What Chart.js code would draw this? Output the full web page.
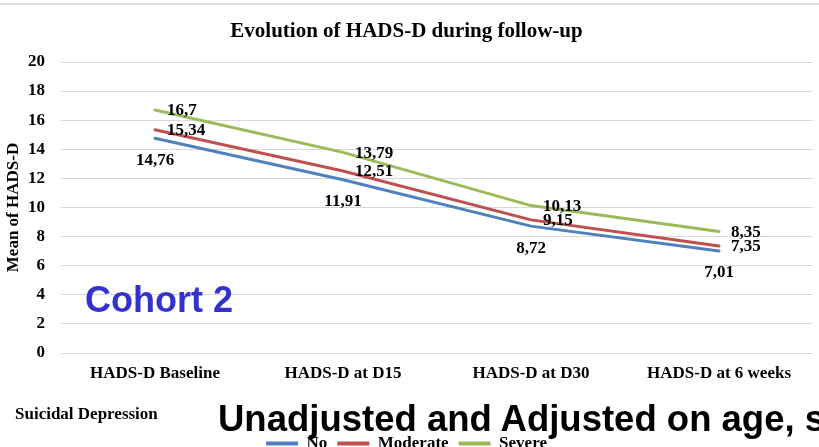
<!DOCTYPE html>
<html lang="en">
<head>
    <meta charset="UTF-8">
    <title>Evolution of HADS-D during follow-up</title>
    <script src="https://cdn.jsdelivr.net/npm/chart.js"></script>
    <style>
        body {
            margin: 0;
            padding: 0;
            width: 819px;
            height: 447px;
            overflow: hidden;
            background: #fff;
            position: relative;
        }
        #hadsChart { position: absolute; left: 0; top: 0; }
        .topline {
            position: absolute; left: 0; top: 3px; width: 819px; height: 2px;
            background: #dedede;
        }
        .cohort {
            position: absolute; left: 85px; top: 282px;
            font: bold 36px/36px "Liberation Sans", Arial, sans-serif;
            color: #3333cc;
        }
        .subtitle {
            position: absolute; left: 15px; top: 405px;
            font: bold 17px/17px "Liberation Serif", "Times New Roman", serif;
            color: #000;
        }
        .bigtext {
            position: absolute; left: 218px; top: 401px;
            font: bold 36.5px/36px "Liberation Sans", Arial, sans-serif;
            color: #000; white-space: nowrap;
        }
    </style>
</head>
<body>
    <div class="topline"></div>
    <canvas id="hadsChart" width="819" height="462"></canvas>
    <div class="cohort">Cohort 2</div>
    <div class="subtitle">Suicidal Depression</div>
    <div class="bigtext">Unadjusted and Adjusted on age, sex</div>

    <script>
        // values
        const categories = ['HADS-D Baseline', 'HADS-D at D15', 'HADS-D at D30', 'HADS-D at 6 weeks'];
        const seriesNames = ['No', 'Moderate', 'Severe'];
        const noValues = [14.76, 11.91, 8.72, 7.01];
        const moderateValues = [15.34, 12.51, 9.15, 7.35];
        const severeValues = [16.7, 13.79, 10.13, 8.35];
        const yMin = 0, yMax = 20, yStep = 2;

        const serif = '"Liberation Serif", "Times New Roman", serif';
        const colors = ['#4f81bd', '#c0504d', '#9bbb59'];

        // draw the value labels next to each point (comma decimal like the original)
        const valueLabels = {
            id: 'valueLabels',
            afterDatasetsDraw(chart) {
                const ctx = chart.ctx;
                ctx.save();
                ctx.font = 'bold 17px ' + serif;
                ctx.fillStyle = '#000';
                chart.data.datasets.forEach((ds, i) => {
                    const meta = chart.getDatasetMeta(i);
                    meta.data.forEach((pt, j) => {
                        const txt = String(ds.data[j]).replace('.', ',');
                        ctx.textBaseline = 'middle';
                        if (ds.labelPos === 'below') {
                            ctx.textAlign = 'center';
                            ctx.fillText(txt, pt.x, pt.y + 22);
                        } else {
                            ctx.textAlign = 'left';
                            ctx.fillText(txt, pt.x + 12, pt.y + 1);
                        }
                    });
                });
                ctx.restore();
            }
        };

        const ctx = document.getElementById('hadsChart').getContext('2d');
        new Chart(ctx, {
            type: 'line',
            data: {
                labels: categories,
                datasets: [
                    { label: seriesNames[0], data: noValues, labelPos: 'below' },
                    { label: seriesNames[1], data: moderateValues, labelPos: 'right' },
                    { label: seriesNames[2], data: severeValues, labelPos: 'right' }
                ].map((d, i) => Object.assign(d, {
                    borderColor: colors[i],
                    backgroundColor: colors[i],
                    borderWidth: 3,
                    pointRadius: 0,
                    tension: 0,
                    borderCapStyle: 'round'
                }))
            },
            options: {
                responsive: false,
                animation: false,
                layout: { padding: { left: 0, right: 6, top: 0, bottom: 0 } },
                scales: {
                    x: {
                        offset: true,
                        grid: { display: false },
                        border: { display: false },
                        ticks: {
                            color: '#000',
                            font: { family: serif, size: 17, weight: 'bold' },
                            padding: 2,
                            maxRotation: 0
                        },
                        afterFit(scale) { scale.height = 72; }
                    },
                    y: {
                        min: yMin,
                        max: yMax,
                        grid: { color: '#d9d9d9', lineWidth: 1, drawTicks: false },
                        border: { display: false },
                        ticks: {
                            stepSize: yStep,
                            color: '#000',
                            padding: 16,
                            font: { family: serif, size: 17, weight: 'bold' }
                        },
                        title: {
                            display: true,
                            text: 'Mean of HADS-D',
                            color: '#000',
                            padding: { top: 3, bottom: 0 },
                            font: { family: serif, size: 17, weight: 'bold' }
                        },
                        afterFit(scale) { scale.width = 61; }
                    }
                },
                plugins: {
                    title: {
                        display: true,
                        text: 'Evolution of HADS-D during follow-up',
                        color: '#000',
                        font: { family: serif, size: 21, weight: 'bold' },
                        padding: { top: 19, bottom: 17.8 }
                    },
                    legend: {
                        position: 'bottom',
                        labels: {
                            color: '#000',
                            boxWidth: 32,
                            boxHeight: 4,
                            padding: 10,
                            font: { family: serif, size: 17, weight: 'bold' },
                            generateLabels(chart) {
                                return Chart.defaults.plugins.legend.labels.generateLabels(chart)
                                    .map(l => Object.assign(l, { lineWidth: 0 }));
                            }
                        }
                    },
                    tooltip: { enabled: false }
                }
            },
            plugins: [valueLabels]
        });
    </script>
</body>
</html>
